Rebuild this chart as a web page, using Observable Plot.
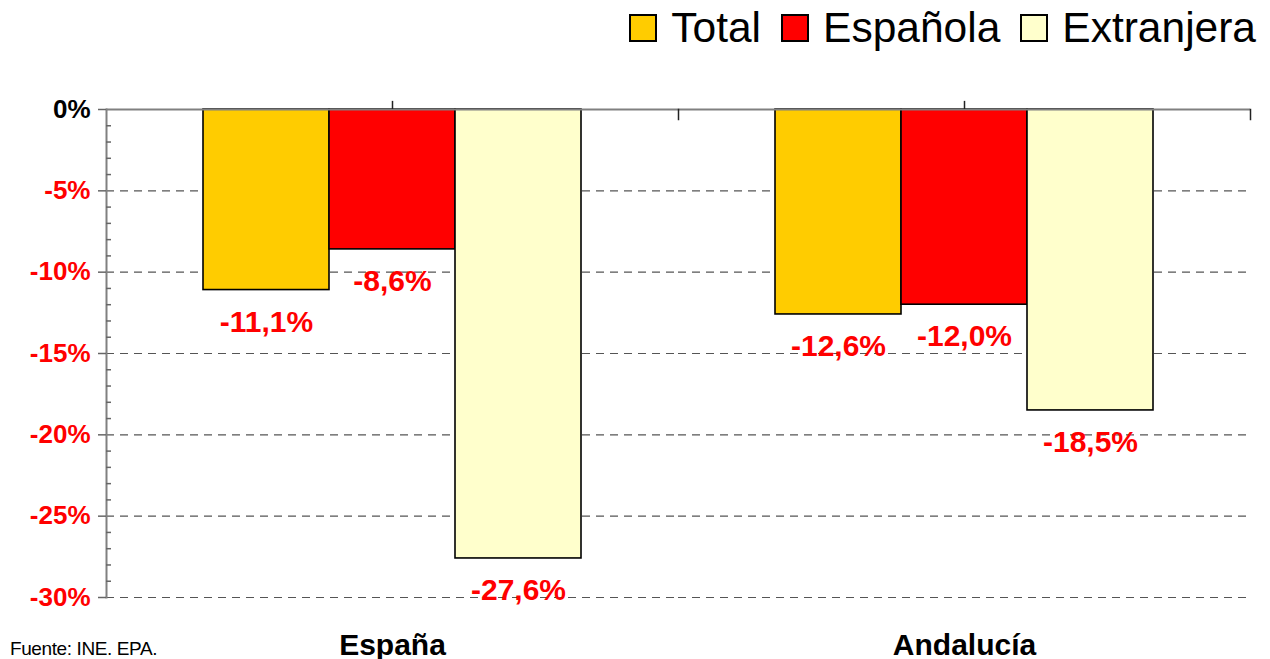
<!DOCTYPE html>
<html>
<head>
<meta charset="utf-8">
<script src="https://cdn.jsdelivr.net/npm/d3@7"></script>
<script src="https://cdn.jsdelivr.net/npm/@observablehq/plot@0.6"></script>
<style>
  html, body { margin: 0; padding: 0; background: white; }
  #wrap { position: relative; width: 1270px; height: 659px; font-family: "Liberation Sans", Arial, sans-serif; }
  #legend { position: absolute; top: 7px; right: 14px; font-size: 42.5px; line-height: 42.5px; white-space: nowrap; color: #000; }
  #legend .item { display: inline-block; margin-left: 20px; }
  #legend .item:first-child { margin-left: 0; }
  #legend .sw { display: inline-block; width: 28px; height: 28px; box-sizing: border-box; border: 2px solid #000; vertical-align: baseline; margin-right: 14px; }
  #caption { position: absolute; left: 10px; top: 639px; font-size: 19px; line-height: 19px; letter-spacing: -0.4px; color: #000; }
</style>
</head>
<body>
<div id="wrap">
  <div id="chart"></div>
  <div id="legend"></div>
  <div id="caption"></div>
</div>
<script>
const categories = ["España", "Andalucía"];
const series = ["Total", "Española", "Extranjera"];
const espana = [-11.1, -8.6, -27.6];
const andalucia = [-12.6, -12.0, -18.5];
const colors = ["#FFCC00", "#FF0000", "#FFFFCC"];
const yTicks = [0, -5, -10, -15, -20, -25, -30];
const captionText = "Fuente: INE. EPA.";

const values = [espana, andalucia];
const data = categories.flatMap((c, i) => series.map((s, j) => ({region: c, series: s, value: values[i][j]})));
const minorTicks = d3.range(-30, 0, 1).filter(v => v % 5 !== 0);
const fmtPct = v => v.toFixed(1).replace(".", ",") + "%";
const fmtTick = v => v + "%";
const centers = categories.map(c => ({region: c, series: series[1]}));

const chart = Plot.plot({
  width: 1270,
  height: 659,
  marginTop: 109,
  marginBottom: 62,
  marginLeft: 105,
  marginRight: 20,
  style: {fontFamily: "Liberation Sans, Arial, sans-serif", background: "white", overflow: "visible"},
  fx: {domain: categories, padding: 0},
  x: {domain: series, paddingInner: 0, paddingOuter: 0.754, axis: null},
  y: {domain: [-30, 0]},
  color: {domain: series, range: colors},
  marks: [
    Plot.ruleY(yTicks.filter(v => v !== 0), {stroke: "#555", strokeWidth: 1.2, strokeDasharray: "8,6"}),
    Plot.barY(data, {fx: "region", x: "series", y: "value", fill: "series", stroke: "#000", strokeWidth: 1.6}),
    Plot.ruleY([0], {stroke: "#808080", strokeWidth: 2}),
    Plot.ruleX(centers, {fx: "region", x: "series", y1: () => 0, y2: () => 0.5, stroke: "#222", strokeWidth: 1.5}),
    Plot.frame({anchor: "right", stroke: "#222", strokeWidth: 1.5, insetBottom: 478}),
    Plot.frame({anchor: "left", facetAnchor: "left", stroke: "#808080", strokeWidth: 2}),
    Plot.axisY(minorTicks, {tickSize: 5, dx: 5, stroke: "#666", strokeWidth: 1.5, fill: "none", tickFormat: () => "", label: null}),
    Plot.axisY([0], {tickSize: 8, tickPadding: 8, tickFormat: fmtTick, stroke: "#666", strokeWidth: 1.5, fill: "#000", fontSize: 26, fontWeight: "bold", label: null}),
    Plot.axisY(yTicks.filter(v => v !== 0), {tickSize: 8, tickPadding: 8, tickFormat: fmtTick, stroke: "#666", strokeWidth: 1.5, fill: "#FF0000", fontSize: 26, fontWeight: "bold", label: null}),
    Plot.text(data, {fx: "region", x: "series", y: "value", text: d => fmtPct(d.value), dy: 32, fill: "#FF0000", fontSize: 30, fontWeight: "bold", lineAnchor: "middle"}),
    Plot.axisFx({anchor: "bottom", tickSize: 0, tickPadding: 36, fontSize: 30, fontWeight: "bold", fill: "#000", label: null})
  ]
});
document.getElementById("chart").appendChild(chart);

const legend = document.getElementById("legend");
series.forEach((s, i) => {
  const item = document.createElement("span");
  item.className = "item";
  const sw = document.createElement("span");
  sw.className = "sw";
  sw.style.background = colors[i];
  item.appendChild(sw);
  item.appendChild(document.createTextNode(s));
  legend.appendChild(item);
});
document.getElementById("caption").textContent = captionText;
</script>
</body>
</html>
